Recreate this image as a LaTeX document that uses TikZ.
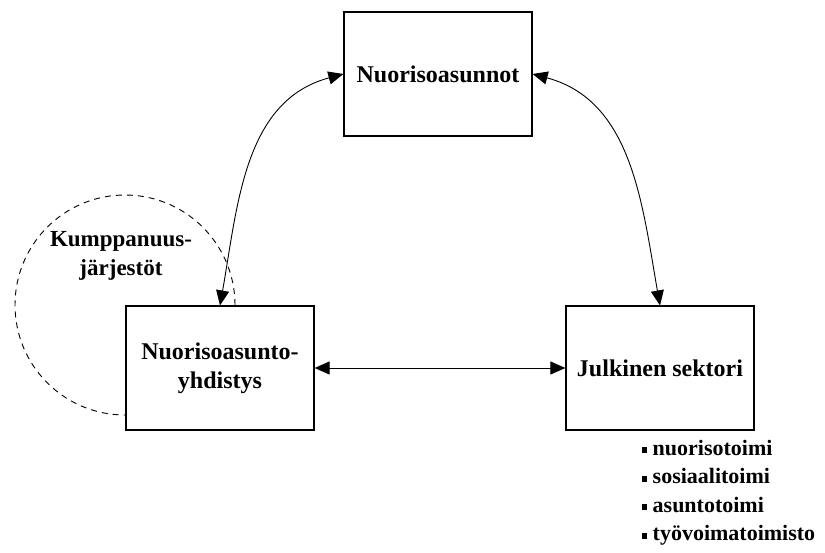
\documentclass[tikz,border=0pt]{standalone}
\usepackage{fontspec}
\setmainfont{Liberation Serif}
\usepackage{tikz}
\usetikzlibrary{arrows.meta}

\begin{document}
\begin{tikzpicture}[x=1pt,y=1pt,
	box/.style={draw,line width=1.2pt,minimum width=188pt,minimum height=124pt,align=center,font=\fontsize{24}{29}\selectfont\bfseries},
	link/.style={line width=0.9pt,{Triangle[length=15pt,width=13pt]}-{Triangle[length=15pt,width=13pt]}}]
	\useasboundingbox (0,0) rectangle (825,552);
	\node[box] (asunnot) at (438,478) {Nuorisoasunnot};
	\node[box] (yhdistys) at (220,184) {Nuorisoasunto-\\yhdistys};
	\node[box] (julkinen) at (660,184) {Julkinen sektori};
	% kumppanuusjarjestot
	\draw[line width=0.9pt,dash pattern=on 6pt off 5pt] (235,247) arc (0:270:110);
	\node[align=center,font=\fontsize{23}{29}\selectfont\bfseries] (kumppanit) at (121,296) {Kumppanuus-\\järjestöt};
	\node[anchor=north west,align=left,inner sep=0pt,font=\fontsize{22}{28.5}\selectfont\bfseries] (toimet) at (642,112)
		{\rule[2pt]{5pt}{6pt} nuorisotoimi\\ \rule[2pt]{5pt}{6pt} sosiaalitoimi\\ \rule[2pt]{5pt}{6pt} asuntotoimi\\ \rule[2pt]{5pt}{6pt} työvoimatoimisto};
	\draw[link] (asunnot.west) to[out=195,in=80] (yhdistys.north);
	\draw[link] (asunnot.east) to[out=-15,in=100] (julkinen.north);
	\draw[link] (yhdistys.east) -- (julkinen.west);
\end{tikzpicture}
\end{document}
